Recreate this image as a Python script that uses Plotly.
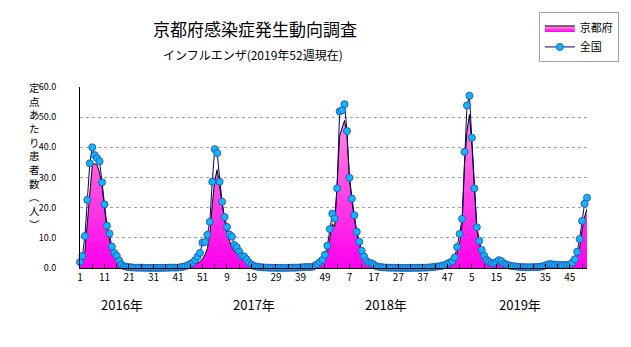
import plotly.graph_objects as go

# Weekly influenza reports per sentinel site (2016 week 1 .. 2019 week 52)
years = [2016, 2017, 2018, 2019]
weeks_per_year = 52

kyoto_2016 = [0.6, 1.5, 5.5, 14.0, 24.5, 34.0, 34.6, 34.2, 31.5, 27.0, 20.0, 13.0, 9.5, 6.0, 4.0, 2.5,
              1.5, 0.8, 0.4, 0.2, 0.1, 0.05, 0.05, 0.03, 0.02, 0.02, 0.01, 0.01, 0.0, 0.0, 0.0, 0.0,
              0.0, 0.0, 0.0, 0.01, 0.02, 0.03, 0.05, 0.08, 0.1, 0.15, 0.2, 0.3, 0.4, 0.6, 0.8, 1.2,
              1.6, 2.0, 3.0, 4.3]
kyoto_2017 = [6.5, 11.0, 21.0, 29.0, 32.6, 26.5, 21.0, 16.0, 11.5, 8.7, 6.6, 5.5, 4.9, 4.0, 3.0, 2.3,
              1.7, 1.1, 0.7, 0.4, 0.25, 0.15, 0.1, 0.08, 0.05, 0.04, 0.03, 0.02, 0.02, 0.02, 0.02, 0.02,
              0.02, 0.03, 0.04, 0.05, 0.06, 0.08, 0.1, 0.12, 0.15, 0.2, 0.2, 0.2, 0.4, 0.8, 1.2, 1.6,
              2.7, 4.9, 9.8, 14.7]
kyoto_2018 = [13.6, 29.0, 43.7, 46.4, 48.9, 44.0, 30.0, 22.0, 15.8, 11.5, 7.6, 5.4, 3.3, 1.8, 1.1, 0.8,
              0.5, 0.3, 0.2, 0.1, 0.08, 0.05, 0.04, 0.03, 0.02, 0.02, 0.02, 0.01, 0.01, 0.01, 0.01, 0.01,
              0.02, 0.02, 0.03, 0.04, 0.05, 0.07, 0.1, 0.12, 0.15, 0.2, 0.25, 0.3, 0.4, 0.6, 0.8, 1.0,
              1.4, 2.3, 4.9, 8.2]
kyoto_2019 = [14.5, 34.4, 45.3, 50.8, 41.0, 26.8, 13.6, 8.2, 5.4, 3.5, 2.5, 1.8, 1.3, 1.2, 1.5, 1.8,
              1.5, 1.0, 0.6, 0.4, 0.3, 0.25, 0.2, 0.2, 0.15, 0.15, 0.15, 0.15, 0.15, 0.15, 0.2, 0.2,
              0.2, 0.3, 0.5, 0.6, 0.7, 0.7, 0.6, 0.6, 0.6, 0.6, 0.6, 0.7, 0.8, 1.0, 1.7, 3.8,
              6.6, 12.6, 16.9, 19.7]

national_2016 = [2.0, 4.0, 10.6, 22.6, 34.7, 40.0, 37.4, 36.4, 35.4, 28.4, 21.1, 14.0, 11.4, 7.1, 5.0, 4.0,
                 2.4, 1.1, 0.6, 0.4, 0.3, 0.2, 0.15, 0.1, 0.1, 0.08, 0.06, 0.05, 0.04, 0.03, 0.03, 0.03,
                 0.03, 0.04, 0.05, 0.07, 0.1, 0.12, 0.15, 0.1, 0.15, 0.25, 0.4, 0.6, 0.9, 1.3, 1.8, 2.6,
                 3.7, 5.0, 8.4, 8.6]
national_2017 = [11.0, 15.3, 28.6, 39.4, 38.1, 28.6, 22.0, 16.9, 13.6, 11.1, 10.4, 7.6, 6.9, 5.4, 4.0, 3.8,
                 2.9, 1.8, 1.1, 0.7, 0.5, 0.35, 0.25, 0.2, 0.15, 0.1, 0.08, 0.06, 0.05, 0.04, 0.04, 0.04,
                 0.05, 0.06, 0.08, 0.1, 0.12, 0.15, 0.2, 0.25, 0.3, 0.3, 0.3, 0.4, 0.85, 1.3, 2.0, 2.7,
                 4.4, 7.4, 12.9, 18.0]
national_2018 = [16.4, 26.4, 51.9, 52.3, 54.3, 45.4, 29.9, 23.0, 17.5, 12.0, 8.7, 5.7, 3.8, 2.3, 1.7, 1.6,
                 1.1, 0.6, 0.4, 0.3, 0.2, 0.15, 0.1, 0.1, 0.08, 0.06, 0.05, 0.04, 0.03, 0.03, 0.03, 0.03,
                 0.04, 0.05, 0.06, 0.08, 0.1, 0.12, 0.15, 0.2, 0.3, 0.4, 0.5, 0.6, 0.8, 1.0, 1.4, 1.8,
                 2.2, 3.5, 7.0, 11.3]
national_2019 = [16.3, 38.5, 53.9, 57.1, 43.2, 26.4, 13.5, 9.0, 6.0, 4.1, 2.7, 2.1, 1.6, 1.5, 2.0, 2.6,
                 2.3, 1.5, 1.2, 0.9, 0.7, 0.6, 0.5, 0.4, 0.3, 0.3, 0.25, 0.25, 0.25, 0.3, 0.3, 0.35,
                 0.4, 0.6, 0.9, 1.2, 1.3, 1.2, 1.1, 1.0, 1.0, 0.9, 1.0, 1.0, 1.1, 1.8, 2.9, 5.4,
                 9.6, 15.6, 21.3, 23.3]

y_ticks = [0, 10, 20, 30, 40, 50, 60]
year_labels = ["2016年", "2017年", "2018年", "2019年"]

kyoto = kyoto_2016 + kyoto_2017 + kyoto_2018 + kyoto_2019
national = national_2016 + national_2017 + national_2018 + national_2019
idx = list(range(1, len(kyoto) + 1))
week_no = [(i - 1) % weeks_per_year + 1 for i in idx]

# ticks every 5 weeks, labels every 10 weeks
tick_vals = idx[::5]
tick_text = [str(week_no[v - 1]) if k % 2 == 0 else "" for k, v in enumerate(tick_vals)]

FONT = "Noto Sans CJK JP"

fig = go.Figure()
fig.add_trace(go.Scatter(
    x=idx, y=kyoto, name="京都府", mode="lines",
    line=dict(color="#000000", width=1),
    fill="tozeroy",
    fillcolor="#ff44dd",
    fillgradient=dict(type="vertical", colorscale=[[0, "#ff00ee"], [1, "#ff9ad6"]], start=0, stop=55),
))
fig.add_trace(go.Scatter(
    x=idx, y=national, name="全国", mode="lines+markers",
    line=dict(color="#000080", width=1),
    marker=dict(symbol="circle", size=7, color="#14b4f8", line=dict(color="#1f5fbf", width=1)),
    cliponaxis=False,
))

fig.update_xaxes(
    range=[1, len(idx)], tickmode="array", tickvals=tick_vals, ticktext=tick_text,
    ticks="inside", ticklen=4, tickcolor="#000000", tickwidth=1,
    showline=True, linecolor="#000000", linewidth=1, showgrid=False, zeroline=False,
    tickfont=dict(family=FONT, size=10, color="#000000"),
)
fig.update_yaxes(
    range=[0, 60], tickmode="array", tickvals=y_ticks, ticktext=[f"{v:.1f}" for v in y_ticks],
    showline=True, linecolor="#000000", linewidth=1, ticks="",
    showgrid=True, gridcolor="#a0a0a0", griddash="dot", gridwidth=1, zeroline=False,
    tickfont=dict(family=FONT, size=9, color="#000000"), ticklabelstandoff=21,
)

annotations = [
    dict(text="京都府感染症発生動向調査", x=0.3447, y=1.324, font=dict(size=17)),
    dict(text="インフルエンザ(2019年52週現在)", x=0.341, y=1.181, font=dict(size=12)),
    dict(text="<br>".join(list("定点あたり患者数") + ["︵", "人", "︶"]), x=-0.0893, y=0.618,
         font=dict(size=10.5), borderpad=0),
]
for lab, px in zip(year_labels, [0.0835, 0.3437, 0.6039, 0.868]):
    annotations.append(dict(text=lab, x=px, y=-0.203, font=dict(size=13)))
for a in annotations:
    a.update(xref="paper", yref="paper", showarrow=False, xanchor="center", yanchor="middle")
    a["font"].update(family=FONT, color="#000000")

fig.update_layout(
    width=631, height=347,
    margin=dict(l=80, r=36, t=86, b=79),
    paper_bgcolor="#ffffff", plot_bgcolor="#ffffff",
    font=dict(family=FONT, color="#000000"),
    annotations=annotations,
    showlegend=True,
    legend=dict(x=0.905, y=1.412, xanchor="left", yanchor="top",
                bordercolor="#a0a0a0", borderwidth=1, bgcolor="#ffffff",
                font=dict(family=FONT, size=11), itemwidth=30, tracegroupgap=0),
)

fig.write_html("out.html")
